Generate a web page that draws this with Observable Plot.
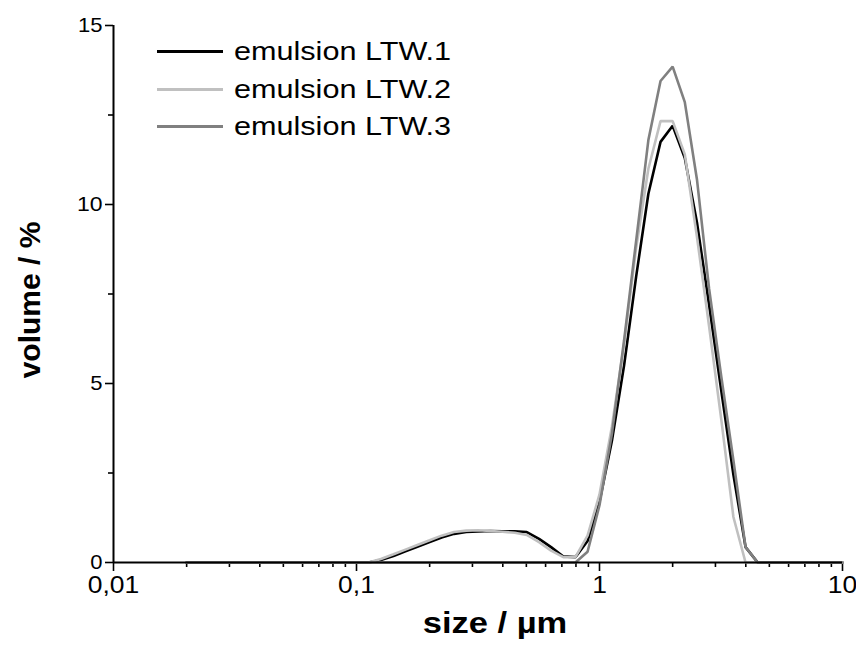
<!DOCTYPE html>
<html>
<head>
<meta charset="utf-8">
<script src="https://cdn.jsdelivr.net/npm/d3@7"></script>
<script src="https://cdn.jsdelivr.net/npm/@observablehq/plot@0.6"></script>
<style>
  html, body { margin: 0; padding: 0; background: #fff; }
  #wrap { position: relative; width: 856px; height: 648px; font-family: "Liberation Sans", Arial, sans-serif; }
  #legend { position: absolute; left: 157px; top: 33px; }
  .row { display: flex; align-items: center; height: 37.5px; }
  .sw { width: 66px; height: 3px; margin-right: 11px; }
  .lab { font-size: 25.5px; color: #000; line-height: 1; display: inline-block; transform: scaleX(1.2); transform-origin: left center; white-space: nowrap; }
</style>
</head>
<body>
<div id="wrap"><div id="legend"></div></div>
<script>
// size classes (µm)
const sizes = [0.02, 0.0224, 0.0252, 0.0283, 0.0317, 0.0356, 0.0399, 0.0448, 0.0502, 0.0564,
  0.0632, 0.071, 0.0796, 0.0893, 0.1, 0.112, 0.126, 0.142, 0.159, 0.178,
  0.2, 0.224, 0.252, 0.283, 0.317, 0.356, 0.399, 0.448, 0.502, 0.564,
  0.632, 0.71, 0.796, 0.893, 1.0, 1.125, 1.262, 1.416, 1.589, 1.783,
  2.0, 2.244, 2.518, 2.825, 3.17, 3.557, 3.991, 4.477, 5.024, 5.637,
  6.325, 7.096, 7.962, 8.934, 10];

const ltw1 = [0, 0, 0, 0, 0, 0, 0, 0, 0, 0,
  0, 0, 0, 0, 0, 0, 0.07, 0.18, 0.31, 0.44,
  0.57, 0.70, 0.80, 0.85, 0.87, 0.88, 0.87, 0.87, 0.85, 0.66,
  0.43, 0.17, 0.15, 0.6, 1.7, 3.4, 5.5, 8.0, 10.3, 11.75,
  12.2, 11.3, 9.5, 7.2, 4.8, 2.45, 0.43, 0, 0, 0,
  0, 0, 0, 0, 0];

const ltw2 = [0, 0, 0, 0, 0, 0, 0, 0, 0, 0,
  0, 0, 0, 0, 0, 0, 0.1, 0.23, 0.36, 0.49,
  0.62, 0.75, 0.85, 0.89, 0.9, 0.88, 0.86, 0.83, 0.77, 0.57,
  0.33, 0.15, 0.15, 0.75, 1.9, 3.8, 6.1, 8.8, 11.0, 12.33,
  12.33, 11.4, 9.1, 6.6, 4.0, 1.27, 0, 0, 0, 0,
  0, 0, 0, 0, 0];

const ltw3 = [0, 0, 0, 0, 0, 0, 0, 0, 0, 0,
  0, 0, 0, 0, 0, 0, 0, 0, 0, 0,
  0, 0, 0, 0, 0, 0, 0, 0, 0, 0,
  0, 0, 0, 0.3, 1.6, 3.6, 6.2, 9.0, 11.8, 13.45,
  13.85, 12.86, 10.7, 7.65, 5.2, 2.85, 0.43, 0, 0, 0,
  0, 0, 0, 0, 0];

const seriesNames = ["emulsion LTW.1", "emulsion LTW.2", "emulsion LTW.3"];
const seriesColors = ["#000000", "#c0c0c0", "#808080"];
const seriesValues = [ltw1, ltw2, ltw3];

const xMajor = [0.01, 0.1, 1, 10];
const xMinor = [2,3,4,5,6,7,8,9].flatMap(k => [0.01*k, 0.1*k, 1*k]);
const yMajor = [0, 5, 10, 15];
const yMinor = [2.5, 7.5, 12.5];
const xTitle = "size / µm";
const yTitle = "volume / %";

const tables = seriesValues.map(vals => sizes.map((s, i) => ({size: s, value: vals[i]})));

const fmt = d => String(d).replace(".", ",");

const chart = Plot.plot({
  width: 856,
  height: 648,
  marginLeft: 113,
  marginRight: 14,
  marginTop: 25,
  marginBottom: 86,
  x: {type: "log", domain: [0.01, 10]},
  y: {domain: [0, 15]},
  style: {fontFamily: "'Liberation Sans', Arial, sans-serif", fontSize: "20px", color: "#000", background: "#fff", overflow: "visible"},
  marks: [
    Plot.axisX({ticks: xMajor, tickSize: 9, tickPadding: 5, tickFormat: fmt, label: null, strokeWidth: 1.6, fontSize: 23}),
    Plot.axisX({ticks: xMinor, tickSize: 5, tickFormat: () => "", label: null, strokeWidth: 1.6}),
    Plot.axisY({ticks: yMajor, tickSize: 8, tickPadding: 3, tickFormat: d => String(d), label: null, strokeWidth: 1.6, fontSize: 20}),
    Plot.axisY({ticks: yMinor, tickSize: 5, tickFormat: () => "", label: null, strokeWidth: 1.6}),
    ...tables.map((t, i) => Plot.line(t, {x: "size", y: "value", stroke: seriesColors[i], strokeWidth: 2.6, strokeLinejoin: "miter"})),
    Plot.ruleY([0], {strokeWidth: 2}),
    Plot.ruleX([0.01], {strokeWidth: 2}),
    Plot.text([xTitle], {frameAnchor: "bottom", textAnchor: "middle", lineAnchor: "middle", dx: 17, dy: 61, fontWeight: "bold", fontSize: 30}),
    Plot.text([yTitle], {frameAnchor: "left", textAnchor: "middle", lineAnchor: "middle", rotate: -90, dx: -83, dy: 6, fontWeight: "bold", fontSize: 30})
  ]
});
document.getElementById("wrap").prepend(chart);

// horizontal stretch of horizontal text, as in the reference
chart.querySelectorAll("text").forEach(t => {
  if (t.textContent === yTitle || t.textContent === "") return;
  const k = /^\d+$/.test(t.textContent) && t.textContent !== "1" && t.textContent !== "10" ? 1.1 : 1.15;
  const tr = t.getAttribute("transform");
  if (tr) {
    t.setAttribute("transform", tr + ` scale(${k},1)`);
  } else {
    const x = +(t.getAttribute("x") || 0), y = +(t.getAttribute("y") || 0);
    t.removeAttribute("x"); t.removeAttribute("y");
    t.setAttribute("transform", `translate(${x},${y}) scale(${k},1)`);
  }
});

const legend = document.getElementById("legend");
seriesNames.forEach((n, i) => {
  const row = document.createElement("div");
  row.className = "row";
  row.innerHTML = `<div class="sw" style="background:${seriesColors[i]}"></div><span class="lab">${n}</span>`;
  legend.appendChild(row);
});
</script>
</body>
</html>
